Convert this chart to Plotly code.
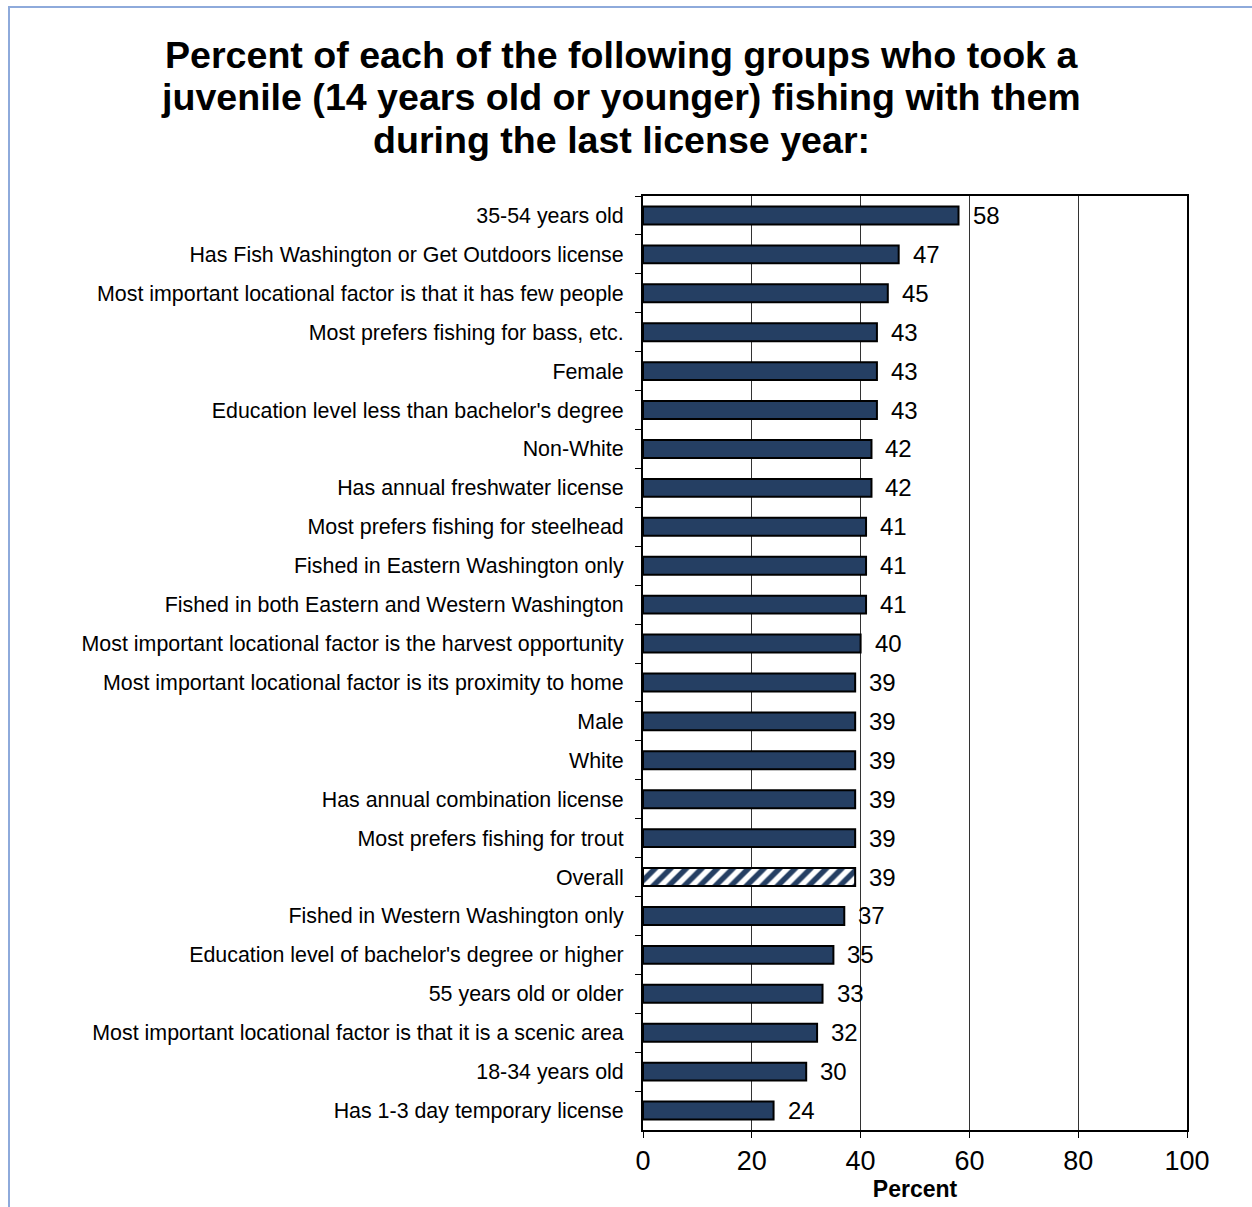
import plotly.graph_objects as go

categories = [
    "35-54 years old",
    "Has Fish Washington or Get Outdoors license",
    "Most important locational factor is that it has few people",
    "Most prefers fishing for bass, etc.",
    "Female",
    "Education level less than bachelor's degree",
    "Non-White",
    "Has annual freshwater license",
    "Most prefers fishing for steelhead",
    "Fished in Eastern Washington only",
    "Fished in both Eastern and Western Washington",
    "Most important locational factor is the harvest opportunity",
    "Most important locational factor is its proximity to home",
    "Male",
    "White",
    "Has annual combination license",
    "Most prefers fishing for trout",
    "Overall",
    "Fished in Western Washington only",
    "Education level of bachelor's degree or higher",
    "55 years old or older",
    "Most important locational factor is that it is a scenic area",
    "18-34 years old",
    "Has 1-3 day temporary license",
]
values = [58, 47, 45, 43, 43, 43, 42, 42, 41, 41, 41, 40, 39, 39, 39, 39, 39, 39, 37, 35, 33, 32, 30, 24]
x_ticks = [0, 20, 40, 60, 80, 100]
title_lines = [
    "Percent of each of the following groups who took a",
    "juvenile (14 years old or younger) fishing with them",
    "during the last license year:",
]

FONT = "Liberation Sans, Arial"
navy = "#253f63"
shapes_pattern = ["/" if c == "Overall" else "" for c in categories]

W, H = 1252, 1207
PL, PT, PW, PH = 643, 196, 544, 934  # plot area in page pixels


def px(xp):
    return (xp - PL) / PW


def py(yp):
    return (PT + PH - yp) / PH


fig = go.Figure()
fig.add_trace(go.Bar(
    y=categories,
    x=values,
    orientation="h",
    width=0.46,
    marker=dict(
        color=navy,
        line=dict(color="black", width=2),
        pattern=dict(shape=shapes_pattern, bgcolor="white", fgopacity=1,
                     size=11, solidity=0.5, fillmode="replace"),
    ),
    hoverinfo="skip",
))

for c, v in zip(categories, values):
    fig.add_annotation(x=v, y=c, text=str(v), showarrow=False, xanchor="left",
                       xshift=12, font=dict(size=24, color="black", family=FONT))

for yv, t in zip([55, 97, 140], title_lines):
    fig.add_annotation(xref="paper", yref="paper", x=px(621), y=py(yv), text="<b>" + t + "</b>",
                       showarrow=False, xanchor="center", yanchor="middle",
                       font=dict(size=37.6, family=FONT, color="black"))

border = dict(color="#8eaadb", width=2)
fig.add_shape(type="line", xref="paper", yref="paper", x0=px(8), x1=px(1270),
              y0=py(7), y1=py(7), line=border, layer="below")
fig.add_shape(type="line", xref="paper", yref="paper", x0=px(9), x1=px(9),
              y0=py(7), y1=py(1230), line=border, layer="below")

fig.update_layout(
    width=W, height=H,
    margin=dict(l=PL, r=W - PL - PW, t=PT, b=H - PT - PH),
    paper_bgcolor="white", plot_bgcolor="white",
    showlegend=False,
    font=dict(family=FONT, color="black"),
    bargap=0.5,
)
fig.update_xaxes(
    range=[0, 100], tickvals=x_ticks, ticks="outside", ticklen=6, tickcolor="black",
    tickfont=dict(size=27), showgrid=True, gridcolor="#333333", gridwidth=1,
    showline=True, linecolor="black", linewidth=2, mirror=True, zeroline=False,
    title=dict(text="<b>Percent</b>", font=dict(size=23), standoff=0),
)
fig.update_yaxes(
    autorange="reversed", ticks="outside", ticklen=6, tickcolor="black",
    tickson="boundaries", tickfont=dict(size=21.4), showline=True, linecolor="black",
    linewidth=2, mirror=True, showgrid=False, ticklabelstandoff=13,
)

fig.write_html(
    "out.html",
    config={"displayModeBar": False},
    post_script="document.body.style.margin='0';document.body.style.overflow='hidden';",
)
